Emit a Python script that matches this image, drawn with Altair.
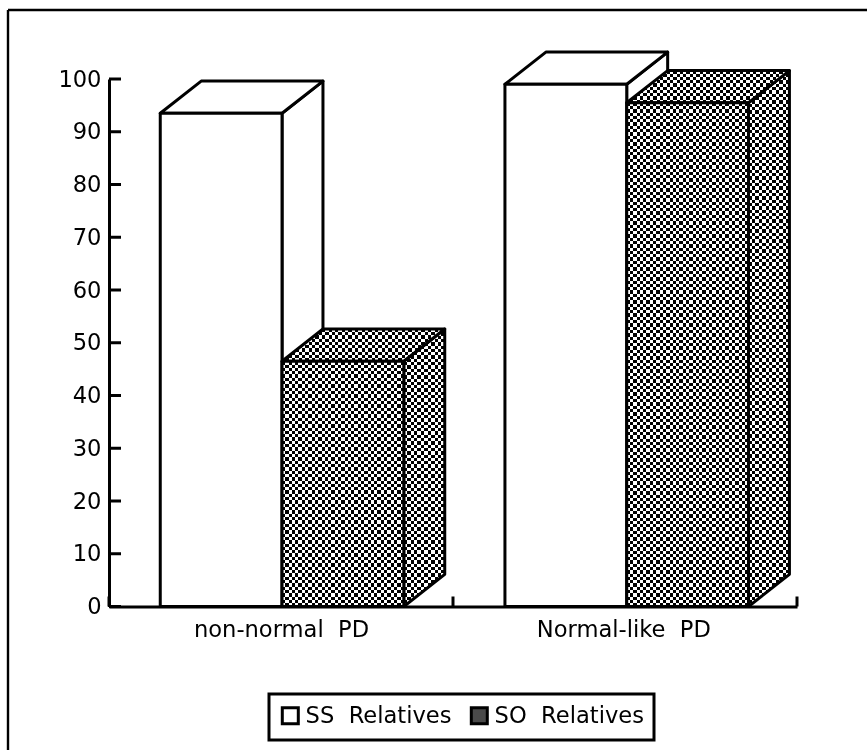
import altair as alt
import pandas as pd

# Chart values
categories = ["non-normal\u00a0\u00a0PD", "Normal-like\u00a0\u00a0PD"]
series = ["SS\u00a0\u00a0Relatives", "SO\u00a0\u00a0Relatives"]
ss_values = [93.5, 99.0]
so_values = [46.5, 95.5]
y_ticks = list(range(0, 101, 10))
x_ticks = [0, 1, 2]
group_centers = [0.503, 1.505]
label_positions = [0.5, 1.495]

# Layout of the plot area, in pixels
PLOT_W = 688
PLOT_H = 527.5
CELL = 3.3          # size of one checker square
FONT = "DejaVu Sans"
FONT_SIZE = 22.6
LINE = 3

# Box proportions, in scale units
BAR_W = 0.354
DEPTH_X = 0.119
DEPTH_Y = 6.1

x_scale = alt.Scale(domain=[0, 2], nice=False, zero=False)
y_scale = alt.Scale(domain=[0, 100], nice=False, zero=False)


def stripes(extent_px, horizontal):
    """Hard-edged black and white stripes across one direction of a face."""
    n = max(2, round(extent_px / CELL))
    stops = []
    for k in range(n):
        colour = "#ffffff" if k % 2 == 0 else "#000000"
        stops.append(alt.GradientStop(offset=k / n, color=colour))
        stops.append(alt.GradientStop(offset=(k + 1) / n, color=colour))
    return alt.LinearGradient(
        gradient="linear", stops=stops,
        x1=0, y1=0, x2=1 if horizontal else 0, y2=0 if horizontal else 1,
    )


def px_w(units):
    return abs(units) * PLOT_W / 2


def px_h(units):
    return abs(units) * PLOT_H / 100


def face_layers(rows, orient, patterned):
    """A filled face, optionally checkered, with its black outline on top."""
    data = alt.Data(values=rows)
    if orient == "vertical":
        enc = dict(
            x=alt.X("x:Q", scale=x_scale, axis=None),
            y=alt.Y("y:Q", scale=y_scale, axis=None),
            y2="y2:Q",
        )
    else:
        enc = dict(
            y=alt.Y("y:Q", scale=y_scale, axis=None),
            x=alt.X("x:Q", scale=x_scale, axis=None),
            x2="x2:Q",
        )
    layers = []
    if patterned:
        if orient == "vertical":
            w = px_w(rows[-1]["x"] - rows[0]["x"])
            h = px_h(max(r["y"] for r in rows) - min(r["y2"] for r in rows))
        else:
            w = px_w(max(r["x2"] for r in rows) - min(r["x"] for r in rows))
            h = px_h(rows[-1]["y"] - rows[0]["y"])
        layers.append(alt.Chart(data).mark_area(
            orient=orient, color=stripes(w, True), strokeWidth=0).encode(**enc))
        layers.append(alt.Chart(data).mark_area(
            orient=orient, color=stripes(h, False), strokeWidth=0,
            blend="difference").encode(**enc))
    else:
        layers.append(alt.Chart(data).mark_area(
            orient=orient, color="white", strokeWidth=0).encode(**enc))
    layers.append(alt.Chart(data).mark_area(
        orient=orient, fill=None, fillOpacity=0, stroke="black", strokeWidth=LINE,
        strokeJoin="round").encode(**enc))
    return layers


def box_layers(left, right, value, patterned):
    """Side, top and front of one box, drawn back to front."""
    side = [
        {"x": right, "y": value, "y2": 0},
        {"x": right + DEPTH_X, "y": value + DEPTH_Y, "y2": DEPTH_Y},
    ]
    top = [
        {"y": value, "x": left, "x2": right},
        {"y": value + DEPTH_Y, "x": left + DEPTH_X, "x2": right + DEPTH_X},
    ]
    front = [
        {"x": left, "y": value, "y2": 0},
        {"x": right, "y": value, "y2": 0},
    ]
    return (face_layers(side, "vertical", patterned)
            + face_layers(top, "horizontal", patterned)
            + face_layers(front, "vertical", patterned))


# Axes: lines and labels only, tick marks point inward and are drawn as rules
label_expr = "datum.value < 1 ? '%s' : '%s'" % (categories[0], categories[1])
axes = alt.Chart(pd.DataFrame({"x": [0.5], "y": [50]})).mark_point(opacity=0).encode(
    x=alt.X("x:Q", scale=x_scale, title=None, axis=alt.Axis(
        values=label_positions, labelExpr=label_expr, ticks=False, grid=False,
        domainColor="black", domainWidth=LINE, labelFont=FONT, labelFontSize=FONT_SIZE,
        labelColor="black", labelPadding=12, labelAngle=0)),
    y=alt.Y("y:Q", scale=y_scale, title=None, axis=alt.Axis(
        values=y_ticks, ticks=False, grid=False, domainColor="black", domainWidth=LINE,
        labelFont=FONT, labelFontSize=FONT_SIZE, labelColor="black", labelPadding=8)),
)

y_tick_rules = alt.Chart(pd.DataFrame({"y": y_ticks})).mark_rule(
    color="black", strokeWidth=LINE).encode(
    y=alt.Y("y:Q", scale=y_scale, axis=None),
    x=alt.value(0), x2=alt.value(12))

x_tick_rules = alt.Chart(pd.DataFrame({"x": x_ticks})).mark_rule(
    color="black", strokeWidth=LINE).encode(
    x=alt.X("x:Q", scale=x_scale, axis=None),
    y=alt.value(PLOT_H), y2=alt.value(PLOT_H - 10))

# Frame lines along the left and top of the figure
frame_left = alt.Chart(pd.DataFrame({"a": [0]})).mark_rule(
    color="black", strokeWidth=2.4).encode(
    x=alt.value(-101), y=alt.value(-69), y2=alt.value(671))
frame_top = alt.Chart(pd.DataFrame({"a": [0]})).mark_rule(
    color="black", strokeWidth=2.4).encode(
    y=alt.value(-69), x=alt.value(-101), x2=alt.value(758))

# Hidden points that carry the legend
legend_df = pd.DataFrame({"series": series, "x": [0.5, 0.5], "y": [5, 5]})
legend_layer = alt.Chart(legend_df).mark_square(size=1, stroke="black").encode(
    x=alt.X("x:Q", scale=x_scale, axis=None),
    y=alt.Y("y:Q", scale=y_scale, axis=None),
    fill=alt.Fill("series:N", title=None,
                  scale=alt.Scale(domain=series, range=["white", "#4a4a4a"]),
                  legend=alt.Legend(
                      orient="none", legendX=160, legendY=615, direction="horizontal",
                      columns=2, strokeColor="black", fillColor="white", padding=10,
                      labelFont=FONT, labelFontSize=FONT_SIZE, labelColor="black",
                      symbolType="square", symbolSize=256, symbolStrokeColor="black",
                      symbolStrokeWidth=LINE, symbolOpacity=1, columnPadding=13,
                      labelOffset=4, labelLimit=300)),
)

layers = [frame_left, frame_top, legend_layer, axes, y_tick_rules, x_tick_rules]
for center, ss, so in zip(group_centers, ss_values, so_values):
    layers += box_layers(center - BAR_W, center, ss, False)
    layers += box_layers(center, center + BAR_W, so, True)

chart = alt.layer(*layers).properties(
    width=PLOT_W, height=PLOT_H,
    padding={"left": 109, "top": 79, "right": 70, "bottom": 143},
    autosize="none",
    background="white",
).resolve_axis(x="independent", y="independent").configure_view(
    stroke=None
).configure_legend(strokeWidth=LINE)

chart.save("out.html", embed_options={"renderer": "svg", "actions": False})
